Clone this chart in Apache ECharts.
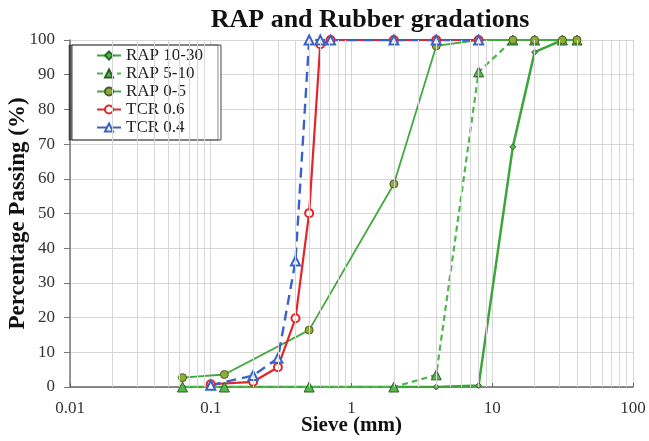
<!DOCTYPE html>
<html>
<head>
<meta charset="utf-8">
<script src="https://cdn.jsdelivr.net/npm/echarts@6/dist/echarts.min.js"></script>
<style>
html,body{margin:0;padding:0;background:#fff;}
#chart{width:649px;height:441px;}
</style>
</head>
<body>
<div id="chart"></div>
<script>
// ---- data ----
const seriesNames = ['RAP 10-30', 'RAP 5-10', 'RAP 0-5', 'TCR 0.6', 'TCR 0.4'];
const rapSieve = [0.063, 0.125, 0.5, 2, 4, 8, 14, 20, 31.5, 40];
const rap1030 = [0, 0, 0, 0, 0, 0.4, 69.2, 96.5, 100, 100];
const rap510 = [0, 0, 0, 0, 3.5, 90.8, 100, 100, 100, 100];
const rap05 = [2.7, 3.6, 16.4, 58.5, 98.3, 100, 100, 100, 100, 100];
const tcrSieve = [0.1, 0.2, 0.3, 0.4, 0.5, 0.6, 0.71, 2, 4, 8];
const tcr06 = [0.8, 1.5, 5.7, 19.8, 50.1, 98.8, 100, 100, 100, 100];
const tcr04 = [0.5, 3.3, 8.3, 36.3, 100, 100, 100, 100, 100, 100];
const xTickLabels = ['0.01', '0.1', '1', '10', '100'];

const pair = (xs, ys) => xs.map((x, i) => [x, ys[i]]);

// minor log gridlines (2..9 in each decade)
const minorGrid = [];
[0.01, 0.1, 1, 10].forEach(d => { for (let k = 2; k <= 9; k++) minorGrid.push({ xAxis: +(k * d).toPrecision(3) }); });

const serif = '"Liberation Serif", "DejaVu Serif", serif';
const green = '#3da63a';
const green2 = '#4db848';

const chart = echarts.init(document.getElementById('chart'), null, { renderer: 'canvas' });
chart.setOption({
  animation: false,
  backgroundColor: '#fff',
  title: {
    text: 'RAP and Rubber gradations',
    left: 365, top: 2, textAlign: 'center',
    textStyle: { fontFamily: serif, fontWeight: 'bold', fontSize: 26, color: '#111' }
  },
  grid: { left: 70, right: 16, top: 40, bottom: 54, outerBoundsMode: 'none', containLabel: false },
  legend: {
    data: seriesNames,
    orient: 'vertical',
    left: 72, top: 45,
    padding: [2, 18, 4, 24],
    itemGap: 1,
    itemWidth: 24, itemHeight: 10,
    backgroundColor: '#fff',
    borderColor: '#444', borderWidth: 1,
    shadowColor: 'rgba(0,0,0,0.45)', shadowOffsetX: -3, shadowOffsetY: 0, shadowBlur: 0,
    textStyle: { fontFamily: serif, fontSize: 17, color: '#222' }
  },
  xAxis: {
    type: 'log', logBase: 10, min: 0.01, max: 100,
    name: 'Sieve (mm)', nameLocation: 'middle', nameGap: 28, nameMoveOverlap: false,
    nameTextStyle: { fontFamily: serif, fontWeight: 'bold', fontSize: 21, color: '#111' },
    axisLine: { show: true, lineStyle: { color: '#666', width: 1.5 } },
    axisTick: { show: true, inside: true, length: 4, lineStyle: { color: '#666' } },
    axisLabel: {
      fontFamily: serif, fontSize: 17, color: '#333', margin: 13,
      formatter: v => { const i = Math.round(Math.log10(v)) + 2; return xTickLabels[i] !== undefined ? xTickLabels[i] : ''; }
    },
    splitLine: { show: true, lineStyle: { color: '#d6d6d6', width: 1 } }
  },
  yAxis: {
    type: 'value', min: 0, max: 100, interval: 10,
    name: 'Percentage Passing (%)', nameLocation: 'middle', nameGap: 40, nameMoveOverlap: false,
    nameTextStyle: { fontFamily: serif, fontWeight: 'bold', fontSize: 23, color: '#111' },
    axisLine: { show: true, lineStyle: { color: '#777', width: 1.5 } },
    axisTick: { show: true, inside: false, length: 6, lineStyle: { color: '#777' } },
    axisLabel: { fontFamily: serif, fontSize: 17, color: '#333', margin: 15 },
    splitLine: { show: true, lineStyle: { color: '#d6d6d6', width: 1 } }
  },
  series: [
    {
      name: 'gridMinor', type: 'line', data: [], z: 1, silent: true,
      markLine: {
        silent: true, symbol: 'none', label: { show: false },
        lineStyle: { color: '#d6d6d6', width: 1, type: 'solid' },
        data: minorGrid
      }
    },
    {
      name: seriesNames[0], type: 'line', data: pair(rapSieve, rap1030), z: 3,
      symbol: 'diamond', symbolSize: 6,
      lineStyle: { color: green, width: 2.5 },
      itemStyle: { color: green2, borderColor: '#2e6b2a', borderWidth: 1 }
    },
    {
      name: seriesNames[1], type: 'line', data: pair(rapSieve, rap510), z: 3,
      symbol: 'triangle', symbolSize: 10,
      lineStyle: { color: green2, width: 2.2, type: [6, 4] },
      itemStyle: { color: '#55b84a', borderColor: '#2d5e27', borderWidth: 1 }
    },
    {
      name: seriesNames[2], type: 'line', data: pair(rapSieve, rap05), z: 3,
      symbol: 'circle', symbolSize: 8,
      lineStyle: { color: '#43a840', width: 1.8 },
      itemStyle: { color: '#8fab3a', borderColor: '#4b5e20', borderWidth: 1 }
    },
    {
      name: seriesNames[3], type: 'line', data: pair(tcrSieve, tcr06), z: 3,
      symbol: 'emptyCircle', symbolSize: 8,
      lineStyle: { color: '#e3242b', width: 2.2 },
      itemStyle: { color: '#e3242b', borderColor: '#e3242b', borderWidth: 1.3 }
    },
    {
      name: seriesNames[4], type: 'line', data: pair(tcrSieve, tcr04), z: 3,
      symbol: 'emptyTriangle', symbolSize: 9,
      lineStyle: { color: '#3a63c8', width: 2.4, type: [10, 6] },
      itemStyle: { color: '#3a63c8', borderColor: '#3a63c8', borderWidth: 1.3 }
    }
  ]
});
</script>
</body>
</html>
